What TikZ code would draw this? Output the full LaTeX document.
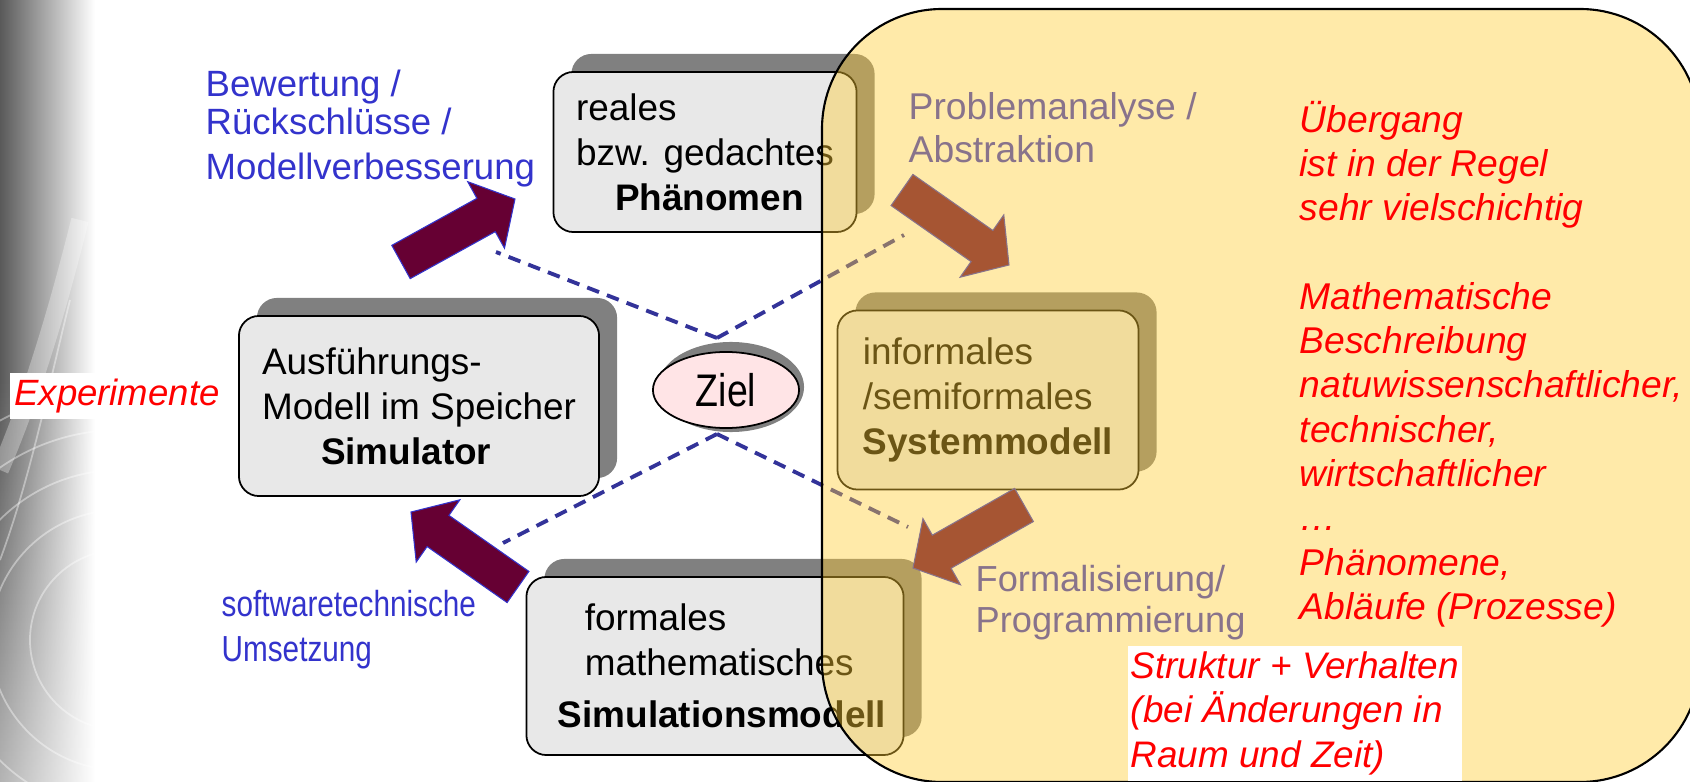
\documentclass[tikz,border=0pt]{standalone}
\usepackage{fontspec}
\setmainfont{Liberation Sans}
\newfontfamily\narrowfont[FakeStretch=0.82]{Liberation Sans}
\usetikzlibrary{calc,shadows,shapes.geometric,fadings}

\definecolor{boxgray}{RGB}{232,232,232}
\definecolor{shadegray}{RGB}{128,128,128}
\definecolor{maroon}{RGB}{102,0,51}
\definecolor{navy}{RGB}{51,51,153}
\definecolor{labelblue}{RGB}{51,51,204}
\definecolor{zielpink}{RGB}{255,228,230}
\definecolor{zonegold}{RGB}{255,204,51}

% fat arrow from #1 (tail) to #2 (tip)
\newcommand{\blockarrow}[2]{%
  \coordinate (#1base) at ($(#2)!0.33cm!(#1)$);
  \filldraw[fatarrow] ($(#1)!0.19cm!90:(#2)$) -- ($(#1base)!0.19cm!90:(#2)$)
    -- ($(#1base)!0.38cm!90:(#2)$) -- (#2) -- ($(#1base)!0.38cm!-90:(#2)$)
    -- ($(#1base)!0.19cm!-90:(#2)$) -- ($(#1)!0.19cm!-90:(#2)$) -- cycle;
}

\begin{document}
\begin{tikzpicture}[
  x=0.01cm,
  y=-0.01cm,
  modelbox/.style={draw, line width=0.5pt, rounded corners=0.2cm, fill=boxgray, align=left, inner sep=0pt,
    font=\fontsize{10.5}{12.8}\selectfont,
    drop shadow={opacity=1, fill=shadegray, shadow xshift=0.18cm, shadow yshift=0.18cm}},
  goal/.style={ellipse, draw, line width=0.5pt, fill=zielpink, inner sep=0pt, minimum width=1.46cm,
    minimum height=0.76cm, font=\narrowfont\fontsize{13}{15}\selectfont},
  bluelabel/.style={anchor=west, inner sep=0pt, align=left, text=labelblue, font=\fontsize{10.4}{10.8}\selectfont},
  redlabel/.style={inner sep=0pt, align=left, text=red, font=\itshape\fontsize{10.6}{12.6}\selectfont},
  fatarrow/.style={fill=maroon, draw=labelblue, line width=0.3pt},
  goalline/.style={navy, line width=1.1pt, dash pattern=on 3.6pt off 2.4pt},
  zone/.style={draw=black, line width=0.6pt, fill=zonegold, fill opacity=0.42, rounded corners=1.2cm},
  streak/.style={white, opacity=0.4, line width=0.5pt}
]
  \useasboundingbox (0,0) rectangle (1690,782);

  % background strip
  \shade[left color=black!65, right color=white] (0,0) rectangle (95,782);
  \fill[white, opacity=0.55, path fading=north] (0,380) rectangle (95,782);
  \begin{scope}
    \clip (0,0) rectangle (95,782);
    \draw[white, opacity=0.3, line width=5pt] (0,470) .. controls (30,400) and (55,320) .. (80,220);
    \foreach \r in {90,130,170,210,250}
      \draw[streak] (120,640) circle [radius=\r];
    \draw[streak] (0,560) .. controls (30,480) and (50,380) .. (70,300);
  \end{scope}

  \node[fill=white, text=red, font=\itshape\fontsize{10.4}{12}\selectfont, minimum width=2.13cm,
    minimum height=0.45cm, inner sep=0pt] (experimente) at (117,396) {Experimente};

  % model boxes
  \node[modelbox, minimum width=3.03cm, minimum height=1.60cm] (phaen) at (705,152)
    {reales\\bzw. gedachtes\\\hspace*{0.39cm}\textbf{Phänomen}};
  \node[modelbox, minimum width=3.60cm, minimum height=1.80cm] (sim) at (419,406)
    {Ausführungs-\\Modell im Speicher\\\hspace*{0.59cm}\textbf{Simulator}};
  \node[modelbox, minimum width=3.01cm, minimum height=1.79cm] (system) at (988,400)
    {informales\\/semiformales\\\textbf{Systemmodell}};
  \node[modelbox, minimum width=3.77cm, minimum height=1.78cm] (simmod) at (715,666)
    {\hspace*{0.41cm}formales\\\hspace*{0.41cm}mathematisches\\[2pt]\hspace*{0.14cm}\textbf{Simulationsmodell}};

  \fill[shadegray] (731,387) ellipse [x radius=0.73cm, y radius=0.45cm];
  \node[goal] (ziel) at (726,390) {Ziel};

  % fat arrows
  \coordinate (a1) at (401,262);  \coordinate (a1tip) at (515,199);
  \coordinate (a2) at (518,587);  \coordinate (a2tip) at (411,512);
  \coordinate (a3) at (902,190);  \coordinate (a3tip) at (1009,265);
  \coordinate (a4) at (1024,505); \coordinate (a4tip) at (913,568);
  \blockarrow{a1}{a1tip}
  \blockarrow{a2}{a2tip}
  \blockarrow{a3}{a3tip}
  \blockarrow{a4}{a4tip}

  % dashed lines to the goal
  \coordinate (zt) at (717,338);
  \coordinate (zb) at (717,434);
  \coordinate (d1) at (496,252);
  \coordinate (d2) at (904,235);
  \coordinate (d3) at (503,543);
  \coordinate (d4) at (908,527);
  \draw[goalline] (zt) -- (d1);
  \draw[goalline] (zt) -- (d2);
  \draw[goalline] (zb) -- (d3);
  \draw[goalline] (zb) -- (d4);

  \node[bluelabel] (bewertung) at (205,129) {Bewertung /\\Rückschlüsse /\\[2pt]Modellverbesserung};
  \node[bluelabel, font=\narrowfont\fontsize{10.3}{12.8}\selectfont] (umsetzung) at (221,630)
    {softwaretechnische\\Umsetzung};
  \node[bluelabel, font=\fontsize{10.6}{12.2}\selectfont] (analyse) at (908,128) {Problemanalyse /\\Abstraktion};
  \node[bluelabel, font=\fontsize{10.3}{11.6}\selectfont] (formal) at (975,603) {Formalisierung/\\Programmierung};

  % transition zone
  \draw[zone] (822,9) rectangle (1700,782);

  \node[redlabel, anchor=west] (uebergang) at (1299,364)
    {Übergang\\ist in der Regel\\sehr vielschichtig\\[12.6pt]Mathematische\\Beschreibung\\natuwissenschaftlicher,\\technischer,\\wirtschaftlicher\\…\\Phänomene,\\Abläufe (Prozesse)};
  \node[redlabel, anchor=north west, fill=white, inner sep=0.03cm, minimum height=1.35cm,
    font=\itshape\fontsize{10.5}{12.7}\selectfont] (struktur) at (1127,645)
    {Struktur + Verhalten\\(bei Änderungen in\\Raum und Zeit)};
\end{tikzpicture}
\end{document}
